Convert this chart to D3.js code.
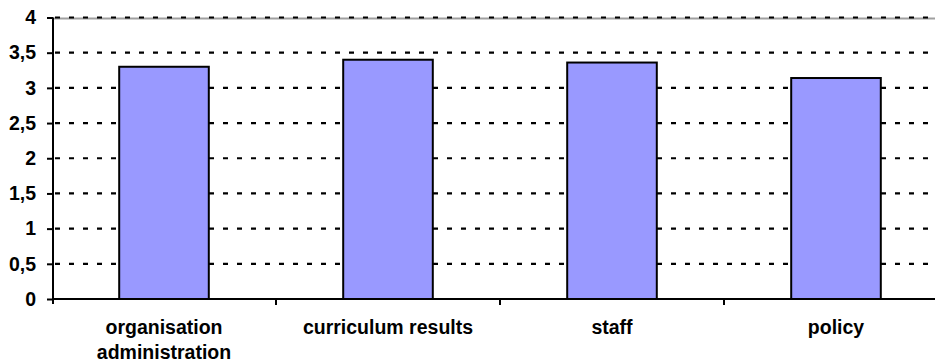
<!DOCTYPE html>
<html>
<head>
<meta charset="utf-8">
<script src="https://cdn.jsdelivr.net/npm/d3@7"></script>
<style>
  html, body { margin: 0; padding: 0; background: #fff; }
  svg { display: block; }
  text { font-family: "Liberation Sans", Arial, sans-serif; font-weight: bold; fill: #000; }
</style>
</head>
<body>
<svg id="chart" width="935" height="362"></svg>
<script>
// Average scores per area
const categories = ["organisation administration", "curriculum results", "staff", "policy"];
const labelLines = [["organisation", "administration"], ["curriculum results"], ["staff"], ["policy"]];
const values = [3.30, 3.40, 3.36, 3.14];
const yTicks = [0, 0.5, 1, 1.5, 2, 2.5, 3, 3.5, 4];
const yTickLabels = ["0", "0,5", "1", "1,5", "2", "2,5", "3", "3,5", "4"];

const svg = d3.select("#chart");
const plotLeft = 53, plotRight = 948, plotTop = 17.5, plotBottom = 299;
const fontSize = "19.5px";

const x = d3.scaleBand()
  .domain(categories)
  .range([plotLeft - 1, plotLeft - 1 + 896])
  .paddingInner(0.6)
  .paddingOuter(0.3);

const y = d3.scaleLinear().domain([0, 4]).range([plotBottom, plotTop]);

// plot area border (top edge)
svg.append("line")
  .attr("x1", plotLeft).attr("x2", plotRight)
  .attr("y1", y(4) + 1).attr("y2", y(4) + 1)
  .attr("stroke", "#a0a0a0").attr("stroke-width", 2);

// dashed gridlines
svg.append("g")
  .selectAll("line")
  .data(yTicks.filter(d => d > 0))
  .join("line")
  .attr("x1", plotLeft + 2).attr("x2", plotRight)
  .attr("y1", d => y(d)).attr("y2", d => y(d))
  .attr("stroke", "#000").attr("stroke-width", 2.2)
  .attr("stroke-dasharray", "5,9");

// bars
svg.append("g")
  .selectAll("rect")
  .data(values)
  .join("rect")
  .attr("x", (d, i) => x(categories[i]))
  .attr("y", d => y(d))
  .attr("width", x.bandwidth())
  .attr("height", d => y(0) - y(d))
  .attr("fill", "#9999ff")
  .attr("stroke", "#000")
  .attr("stroke-width", 2);

// y axis
const yAxis = d3.axisLeft(y)
  .tickValues(yTicks)
  .tickFormat((d, i) => yTickLabels[i])
  .tickSize(6)
  .tickPadding(11);
const gy = svg.append("g").attr("transform", `translate(${plotLeft},0)`).call(yAxis);
gy.select(".domain").attr("stroke", "#000").attr("stroke-width", 2)
  .attr("d", `M0,${plotTop}V${plotBottom + 5}`);
gy.selectAll(".tick line").attr("stroke", "#000").attr("stroke-width", 2);
gy.selectAll(".tick text")
  .style("font-size", fontSize)
  .style("font-family", "'Liberation Sans', Arial, sans-serif")
  .style("font-weight", "bold")
  .attr("fill", "#000");

// x axis with ticks at category boundaries
const gx = svg.append("g");
gx.append("line")
  .attr("x1", plotLeft).attr("x2", plotRight)
  .attr("y1", y(0)).attr("y2", y(0))
  .attr("stroke", "#000").attr("stroke-width", 2);
const step = x.step();
gx.selectAll("line.tick")
  .data(categories.slice(1))
  .join("line")
  .attr("class", "tick")
  .attr("x1", d => x(d) - step * 0.3).attr("x2", d => x(d) - step * 0.3)
  .attr("y1", y(0)).attr("y2", y(0) + 6)
  .attr("stroke", "#000").attr("stroke-width", 2);

// category labels
const lab = svg.append("g")
  .selectAll("text")
  .data(categories)
  .join("text")
  .attr("text-anchor", "middle")
  .attr("x", d => x(d) + x.bandwidth() / 2)
  .attr("y", 334)
  .style("font-size", fontSize);
lab.selectAll("tspan")
  .data((d, i) => labelLines[i])
  .join("tspan")
  .attr("x", function() { return d3.select(this.parentNode).attr("x"); })
  .attr("dy", (d, i) => i === 0 ? 0 : 25)
  .text(d => d);
</script>
</body>
</html>
